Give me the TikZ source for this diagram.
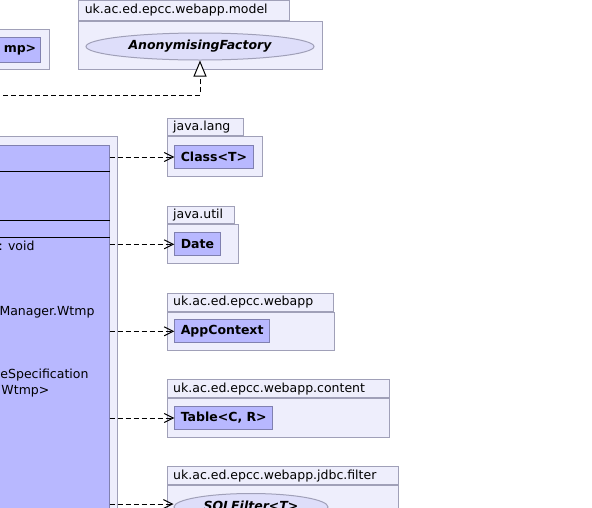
\documentclass[tikz,border=0pt]{standalone}
\usepackage{fontspec}
\setmainfont{DejaVu Sans}
\usetikzlibrary{arrows.meta,shapes.geometric}
\definecolor{pkgFill}{RGB}{238,238,252}
\definecolor{pkgLine}{RGB}{160,160,184}
\definecolor{clsFill}{RGB}{184,184,255}
\definecolor{clsLine}{RGB}{128,128,176}
\definecolor{ifcFill}{RGB}{222,222,250}

\begin{document}
\begin{tikzpicture}[x=1pt, y=-1pt, line width=1pt, font=\fontsize{12.5}{15}\selectfont,
  pkg/.style={rectangle, draw=pkgLine, fill=pkgFill, anchor=north west, inner sep=0pt},
  pkgtab/.style={rectangle, draw=pkgLine, fill=pkgFill, anchor=south west,
                 minimum height=18pt, inner xsep=6pt, inner ysep=0pt, align=left},
  cls/.style={rectangle, draw=clsLine, fill=clsFill, anchor=north west,
              minimum height=23pt, inner xsep=6pt, font=\fontsize{12.5}{15}\selectfont\bfseries},
  ifc/.style={ellipse, draw=pkgLine, fill=ifcFill, inner sep=0pt,
              font=\fontsize{12.5}{15}\selectfont\bfseries\itshape},
  member/.style={anchor=base west, inner sep=0pt},
  dep/.style={dash pattern=on 5pt off 3pt, -{Straight Barb[length=9pt, width=9pt]}},
  real/.style={dash pattern=on 5pt off 3pt, -{Triangle[open, length=16pt, width=13pt, fill=white]}}]
  \useasboundingbox (0,0) rectangle (592,507);
  \clip (0,0) rectangle (592,507);

  % packages cut at the left border
  \node[pkg, minimum width=59.3pt, minimum height=40.3pt] (wtmpsrc) at (-10,29) {};
  \node[cls, anchor=north east, minimum height=24.4pt, inner xsep=4pt] (wtmpspec) at (40.7,37.3) {mp>};
  \node[pkg, minimum width=126.7pt, minimum height=380pt] (mgrpkg) at (-10,136) {};
  \node[cls, minimum width=118.7pt, minimum height=370pt] (wtmp) at (-10,145) {};
  \draw (wtmp.west |- 0,171.3) -- (wtmp.east |- 0,171.3);
  \draw (wtmp.west |- 0,220) -- (wtmp.east |- 0,220);
  \draw (wtmp.west |- 0,237.3) -- (wtmp.east |- 0,237.3);
  \node[member] (m1) at (-2,250.5) {: void};
  \node[member] (m2) at (-1,315) {Manager.Wtmp};
  \node[member] (m3) at (0,378) {eSpecification};
  \node[member] (m4) at (1,394) {Wtmp>};

  % uk.ac.ed.epcc.webapp.model
  \node[pkg, minimum width=243.7pt, minimum height=48.6pt] (model) at (78.3,20.7) {};
  \node[pkgtab, text width=199pt, minimum height=19.7pt] (modeltab) at (model.north west) {uk.ac.ed.epcc.webapp.model};
  \node[ifc, minimum width=228pt, minimum height=27pt] (anon) at (200,46.5) {AnonymisingFactory};

  % java.lang
  \node[pkg, minimum width=95.6pt, minimum height=40pt] (lang) at (166.7,136) {};
  \node[pkgtab, text width=64pt, minimum height=17pt] (langtab) at (lang.north west) {java.lang};
  \node[cls] (klass) at (174.3,145) {Class<T>};

  % java.util
  \node[pkg, minimum width=71.6pt, minimum height=39.3pt] (util) at (166.7,224) {};
  \node[pkgtab, text width=55.6pt, minimum height=17.3pt] (utiltab) at (util.north west) {java.util};
  \node[cls] (date) at (174.3,232.3) {Date};

  % uk.ac.ed.epcc.webapp
  \node[pkg, minimum width=167.6pt, minimum height=38.3pt] (webapp) at (166.7,311.7) {};
  \node[pkgtab, text width=154.6pt] (webapptab) at (webapp.north west) {uk.ac.ed.epcc.webapp};
  \node[cls] (appctx) at (174.3,319.3) {AppContext};

  % uk.ac.ed.epcc.webapp.content
  \node[pkg, minimum width=222.6pt, minimum height=38.4pt] (content) at (166.7,398.3) {};
  \node[pkgtab, text width=210.6pt] (contenttab) at (content.north west) {uk.ac.ed.epcc.webapp.content};
  \node[cls] (table) at (174.3,406) {Table<C, R>};

  % uk.ac.ed.epcc.webapp.jdbc.filter
  \node[pkg, minimum width=231.6pt, minimum height=60pt] (filter) at (166.7,485.3) {};
  \node[pkgtab, text width=219.6pt] (filtertab) at (filter.north west) {uk.ac.ed.epcc.webapp.jdbc.filter};
  \node[ifc, minimum width=154pt, minimum height=27pt] (sqlf) at (251,507) {SQLFilter<T>};

  % relations
  \coordinate (implsrc) at (-5,95);
  \draw[real] (implsrc) -| (anon.south);
  \draw[dep] (klass.west -| wtmp.east) -- (klass.west);
  \draw[dep] (date.west -| wtmp.east) -- (date.west);
  \draw[dep] (appctx.west -| wtmp.east) -- (appctx.west);
  \draw[dep] (table.west -| wtmp.east) -- (table.west);
  \draw[dep] ([yshift=3pt]sqlf.west -| wtmp.east) -- ([yshift=3pt]sqlf.west);
\end{tikzpicture}
\end{document}
